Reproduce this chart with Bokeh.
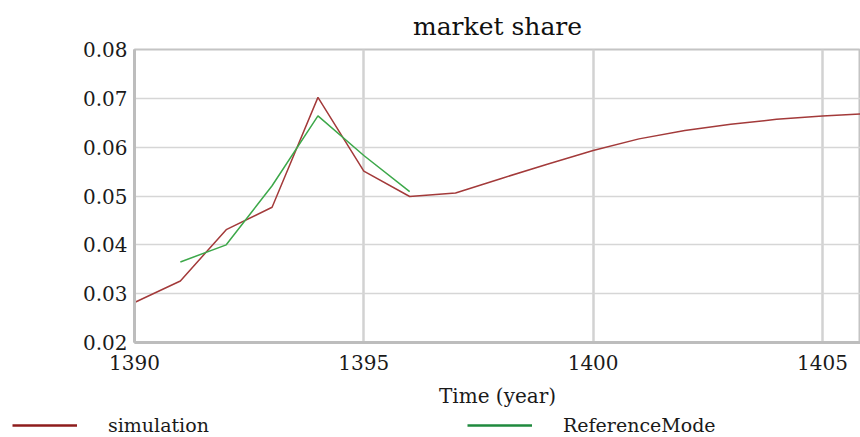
from bokeh.plotting import figure
from bokeh.layouts import column, row
from bokeh.models import Range1d, Legend, LegendItem, FixedTicker
from bokeh.embed import file_html
from bokeh.resources import INLINE

# data
sim_years = [1390, 1391, 1392, 1393, 1394, 1395, 1396, 1397, 1398, 1399, 1400, 1401, 1402, 1403, 1404, 1405, 1406]
sim_values = [0.0282, 0.0326, 0.0431, 0.0477, 0.0702, 0.0551, 0.0499, 0.0506, 0.0536, 0.0565, 0.0593, 0.0617, 0.0634, 0.0647, 0.0657, 0.0664, 0.0669]
ref_years = [1391, 1392, 1393, 1394, 1395, 1396]
ref_values = [0.0365, 0.0400, 0.0521, 0.0664, 0.0583, 0.0509]
x_ticks = [1390, 1395, 1400, 1405]
y_ticks = [0.02, 0.03, 0.04, 0.05, 0.06, 0.07, 0.08]
series_names = ["simulation", "ReferenceMode"]

FONT = "DejaVu Serif"
RED = "#a33a3a"
GREEN = "#3da84a"
RED_LEG = "#8e1c1c"
GREEN_LEG = "#1f8a3e"

p = figure(width=860, height=410, output_backend="svg", toolbar_location=None,
           x_range=Range1d(1390, 1405.83), y_range=Range1d(0.02, 0.08),
           min_border_left=134, min_border_right=0, min_border_top=49, min_border_bottom=68)
p.title.text = "market share"
p.title.align = "center"
p.title.text_font = FONT
p.title.text_font_size = "25px"
p.title.text_font_style = "normal"
p.title.text_color = "#111111"
p.title.standoff = 18

p.outline_line_color = "#c4c4c4"
p.outline_line_width = 2

for ax in (p.xaxis[0], p.yaxis[0]):
    ax.axis_line_color = "#bdbdbd"
    ax.axis_line_width = 3
    ax.major_tick_line_color = None
    ax.minor_tick_line_color = None
    ax.major_label_text_font = FONT
    ax.major_label_text_font_size = "20px"
    ax.major_label_text_color = "#1a1a1a"

p.xaxis.ticker = FixedTicker(ticks=x_ticks)
p.yaxis.ticker = FixedTicker(ticks=y_ticks)
p.yaxis.major_label_standoff = 1
p.xaxis.major_label_standoff = 6
p.xaxis.axis_label = "Time (year)"
p.xaxis.axis_label_text_font = FONT
p.xaxis.axis_label_text_font_size = "20px"
p.xaxis.axis_label_text_font_style = "normal"
p.xaxis.axis_label_text_color = "#1a1a1a"
p.xaxis.axis_label_standoff = 11

p.xgrid.ticker = FixedTicker(ticks=x_ticks)
p.ygrid.ticker = FixedTicker(ticks=y_ticks)
p.xgrid.grid_line_color = "#d2d2d2"
p.xgrid.grid_line_width = 2.5
p.ygrid.grid_line_color = "#d6d6d6"
p.ygrid.grid_line_width = 1.5

p.line(sim_years, sim_values, line_color=RED, line_width=1.5)
p.line(ref_years, ref_values, line_color=GREEN, line_width=1.5)

# legend strip below the chart (its ranges keep the series out of view; only the legend shows)
lg = figure(width=860, height=27, output_backend="svg", toolbar_location=None,
            x_axis_type=None, y_axis_type=None, x_range=Range1d(0, 1), y_range=Range1d(0, 1),
            min_border=0, min_border_left=0, min_border_right=0, min_border_top=0, min_border_bottom=0)
lg.outline_line_color = None
lg.xgrid.visible = False
lg.ygrid.visible = False
l_sim = lg.line(sim_years, sim_values, line_color=RED_LEG, line_width=2.5)
l_ref = lg.line(ref_years, ref_values, line_color=GREEN_LEG, line_width=2.5)

legend = Legend(items=[LegendItem(label=series_names[0], renderers=[l_sim]),
                       LegendItem(label=series_names[1], renderers=[l_ref])],
                orientation="horizontal", location=(12, 1),
                glyph_width=65, glyph_height=20, label_height=20, label_standoff=31, label_width=300,
                spacing=59, padding=0, margin=0,
                border_line_color=None, background_fill_alpha=0,
                label_text_font=FONT, label_text_font_size="19px", label_text_color="#1a1a1a")
lg.add_layout(legend, "center")

open("out.html", "w").write(file_html(column(p, row(lg), spacing=0), INLINE))
